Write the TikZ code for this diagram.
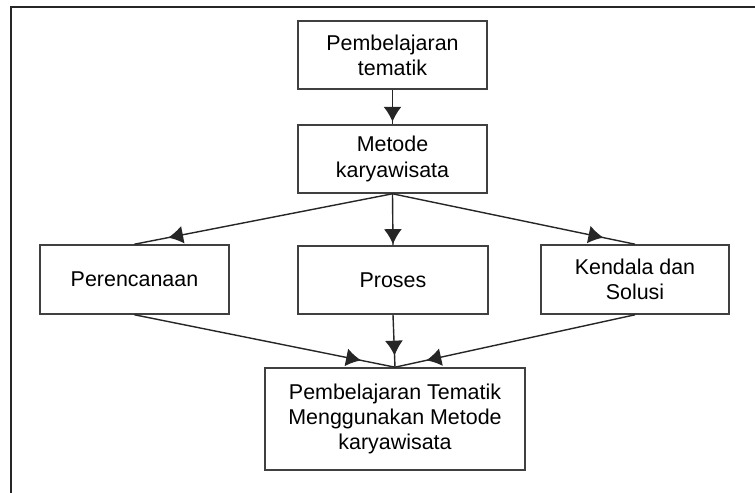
\documentclass[tikz,border=0pt]{standalone}
\usepackage{fontspec}
\setmainfont{Liberation Sans}
\usetikzlibrary{arrows.meta,decorations.markings}
\tikzset{
  kotak/.style={draw=black!75, line width=0.9pt, align=center, inner sep=2pt,
    font=\fontsize{12.2}{14.4}\selectfont},
  panah/.style={draw=black!85, line width=0.8pt, postaction={decorate},
    decoration={markings, mark=at position #1 with {\arrow{Latex[length=3mm,width=3.6mm]}}}},
  panah/.default=0.87
}

\begin{document}
\begin{tikzpicture}[x=0.02cm, y=-0.02cm]
		%%%%% START %%%%%
		\useasboundingbox (0,0) rectangle (755,493);
		\draw[line width=1.2pt, black!85] (11,493) -- (11,7) -- (755,7);
		
		\node[kotak, minimum width=189*0.02cm, minimum height=68*0.02cm] (tematik) at (392.5,55) {Pembelajaran\\tematik};
		\node[kotak, minimum width=189*0.02cm, minimum height=68*0.02cm] (metode) at (392.5,159) {Metode\\karyawisata};
		
		\node[kotak, minimum width=189*0.02cm, minimum height=69*0.02cm] (rencana) at (134.5,279.5) {Perencanaan};
		\node[kotak, minimum width=190*0.02cm, minimum height=68*0.02cm] (proses) at (393,280) {Proses};
		\node[kotak, minimum width=188*0.02cm, minimum height=69*0.02cm] (kendala) at (635,279.5) {Kendala dan\\Solusi};
		
		\node[kotak, minimum width=260*0.02cm, minimum height=102*0.02cm] (hasil) at (395,419) {Pembelajaran Tematik\\Menggunakan Metode\\karyawisata};
		
		\draw[panah=0.93] (tematik.south) -- (metode.north);
		\draw[panah] (metode.south) -- (rencana.north);
		\draw[panah=0.98] (metode.south) -- (proses.north);
		\draw[panah] (metode.south) -- (kendala.north);
		
		\draw[panah] (rencana.south) -- (hasil.north);
		\draw[panah=0.78] (proses.south) -- (hasil.north);
		\draw[panah] (kendala.south) -- (hasil.north);
		%%%%% END %%%%%
\end{tikzpicture}
\end{document}
